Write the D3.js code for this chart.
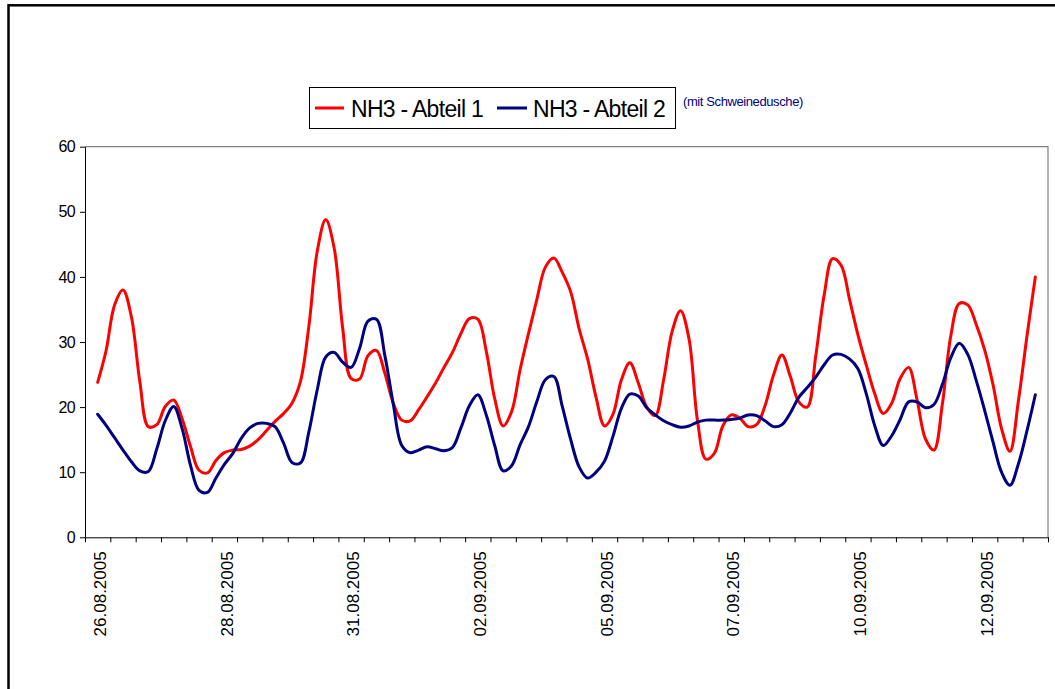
<!DOCTYPE html>
<html>
<head>
<meta charset="utf-8">
<script src="https://cdn.jsdelivr.net/npm/d3@7"></script>
<style>
  html, body { margin: 0; padding: 0; background: #fff; }
  svg { display: block; font-family: "Liberation Sans", Arial, sans-serif; }
</style>
</head>
<body>
<svg id="chart" width="1055" height="689"></svg>
<script>
// ---- DATA ----
// Category axis: 38 categories of 12 hours each, starting 26.08.2005 00:00.
// Readings every 4 hours (3 readings per category).
const categoryLabels = ["26.08.2005", "28.08.2005", "31.08.2005", "02.09.2005",
                        "05.09.2005", "07.09.2005", "10.09.2005", "12.09.2005"];
const labelCategoryIndex = [0, 5, 10, 15, 20, 25, 30, 35];
const categoryCount = 38;
const readingsPerCategory = 3;
const yTicks = [0, 10, 20, 30, 40, 50, 60];

const seriesNames = ["NH3 - Abteil 1", "NH3 - Abteil 2"];
const noteText = "(mit Schweinedusche)";

const abteil1 = [
  23.8, 28.7, 35.7, 38.0, 33.8, 23.8, 17.0, 17.3, 20.1, 21.1,
  18.2, 13.9, 10.3, 9.9, 11.8, 13.0, 13.4, 13.5, 14.0, 15.0,
  16.4, 17.8, 19.0, 20.6, 23.9, 32.4, 44.0, 48.8, 44.4, 32.2,
  24.4, 24.3, 27.9, 28.7, 25.2, 20.6, 18.0, 17.9, 19.6, 21.6,
  23.7, 26.1, 28.4, 31.3, 33.6, 33.5, 28.6, 21.3, 17.1, 19.3,
  25.7, 31.3, 36.6, 41.5, 42.9, 40.7, 37.7, 32.0, 27.4, 21.5,
  17.1, 18.9, 24.2, 26.8, 23.7, 20.0, 18.7, 24.2, 31.6, 34.8,
  30.5, 18.0, 12.0, 12.9, 17.1, 18.8, 18.3, 17.0, 17.3, 20.2,
  24.9, 28.0, 24.7, 20.8, 20.0, 27.8, 37.2, 42.8, 41.8, 36.6,
  31.1, 26.4, 22.0, 19.0, 20.6, 24.4, 26.1, 21.1, 15.1, 13.4,
  20.5, 31.0, 35.9, 35.7, 32.7, 28.8, 23.4, 16.7, 13.2, 21.0,
  30.8, 40.0
];

const abteil2 = [
  18.9, 17.2, 15.3, 13.4, 11.6, 10.2, 10.1, 13.6, 17.9, 20.1,
  16.7, 11.0, 7.2, 6.9, 9.1, 11.2, 12.9, 15.2, 16.8, 17.5,
  17.5, 17.0, 14.5, 11.5, 11.4, 16.2, 22.7, 27.7, 28.4, 26.9,
  26.1, 29.0, 33.2, 33.5, 27.9, 20.4, 14.1, 13.0, 13.4, 13.9,
  13.6, 13.3, 13.8, 16.8, 20.2, 21.9, 18.8, 14.1, 10.2, 11.0,
  14.2, 17.0, 20.9, 24.2, 24.7, 20.1, 15.0, 10.8, 9.1, 10.0,
  11.7, 15.5, 19.8, 22.0, 21.7, 19.9, 18.8, 17.9, 17.3, 16.9,
  17.1, 17.7, 18.0, 18.0, 18.0, 18.1, 18.3, 18.8, 18.7, 17.9,
  17.0, 17.3, 19.1, 21.5, 23.0, 24.6, 26.5, 28.0, 28.1, 27.4,
  25.9, 22.0, 17.1, 14.1, 15.6, 18.1, 20.8, 20.8, 19.9, 20.4,
  23.5, 27.6, 29.8, 28.1, 24.1, 19.5, 14.6, 10.0, 8.0, 11.3,
  16.3, 21.9
];

const seriesColors = ["#ff0000", "#000080"];

// ---- LAYOUT ----
const svg = d3.select("#chart");
const plot = { left: 85, top: 146.7, right: 1048, bottom: 537.3 };

// outer frame
svg.append("rect")
  .attr("x", 8.5).attr("y", 5.3)
  .attr("width", 1100).attr("height", 800)
  .attr("fill", "none").attr("stroke", "#000").attr("stroke-width", 2.5);

const x = d3.scaleLinear()
  .domain([-0.5, categoryCount - 0.5])
  .range([plot.left, plot.right]);
const y = d3.scaleLinear()
  .domain([0, 60])
  .range([plot.bottom, plot.top]);

// plot area border (top/right gray)
svg.append("path")
  .attr("d", `M${plot.left},${plot.top}H${plot.right}V${plot.bottom}`)
  .attr("fill", "none").attr("stroke", "#808080").attr("stroke-width", 1.2);

// Y axis
const yAxis = svg.append("g")
  .attr("transform", `translate(${plot.left},0)`)
  .call(d3.axisLeft(y).tickValues(yTicks).tickSize(5).tickPadding(5).tickSizeOuter(0));
yAxis.selectAll("text")
  .attr("font-size", 16).attr("fill", "#000")
  .attr("font-family", "'Liberation Sans', Arial, sans-serif")
  .attr("letter-spacing", "-0.6px");
yAxis.selectAll("line, path").attr("stroke", "#000");

// X axis: tick marks at category boundaries
const xAxisTicks = svg.append("g")
  .attr("transform", `translate(0,${plot.bottom})`)
  .call(d3.axisBottom(x)
    .tickValues(d3.range(categoryCount + 1).map(i => i - 0.5))
    .tickFormat("").tickSize(5).tickSizeOuter(0));
xAxisTicks.selectAll("line, path").attr("stroke", "#000");

// X axis labels: centered on their categories, rotated
const xAxisLabels = svg.append("g")
  .attr("transform", `translate(0,${plot.bottom})`)
  .call(d3.axisBottom(x)
    .tickValues(labelCategoryIndex)
    .tickFormat((d, i) => categoryLabels[i]).tickSize(0));
xAxisLabels.select(".domain").remove();
xAxisLabels.selectAll("text")
  .attr("font-size", 17).attr("fill", "#000")
  .attr("font-family", "'Liberation Sans', Arial, sans-serif")
  .attr("text-anchor", "end")
  .attr("transform", "rotate(-90)")
  .attr("x", -14).attr("y", 1.5).attr("dy", "0.36em");

// ---- LINES ----
const line = d3.line()
  .x((d, i) => x(i / readingsPerCategory))
  .y(d => y(d))
  .curve(d3.curveCatmullRom.alpha(0.5));

[abteil1, abteil2].forEach((s, k) => {
  svg.append("path")
    .datum(s)
    .attr("d", line)
    .attr("fill", "none")
    .attr("stroke", seriesColors[k])
    .attr("stroke-width", 3)
    .attr("stroke-linejoin", "round")
    .attr("stroke-linecap", "round");
});

// ---- LEGEND ----
const lg = svg.append("g");
lg.append("rect")
  .attr("x", 309.5).attr("y", 87.5).attr("width", 366).attr("height", 41)
  .attr("fill", "#fff").attr("stroke", "#000").attr("stroke-width", 1);
const legendItems = [
  { x1: 315, x2: 344, tx: 351 },
  { x1: 497, x2: 527, tx: 533 }
];
legendItems.forEach((it, k) => {
  lg.append("line")
    .attr("x1", it.x1).attr("x2", it.x2).attr("y1", 108).attr("y2", 108)
    .attr("stroke", seriesColors[k]).attr("stroke-width", 3);
  lg.append("text")
    .attr("x", it.tx).attr("y", 116.5)
    .attr("font-size", 23).attr("letter-spacing", "-0.7px")
    .attr("fill", "#000")
    .text(seriesNames[k]);
});
svg.append("text")
  .attr("x", 683).attr("y", 106)
  .attr("font-size", 13).attr("letter-spacing", "-0.4px")
  .attr("fill", "#000080")
  .text(noteText);
</script>
</body>
</html>
